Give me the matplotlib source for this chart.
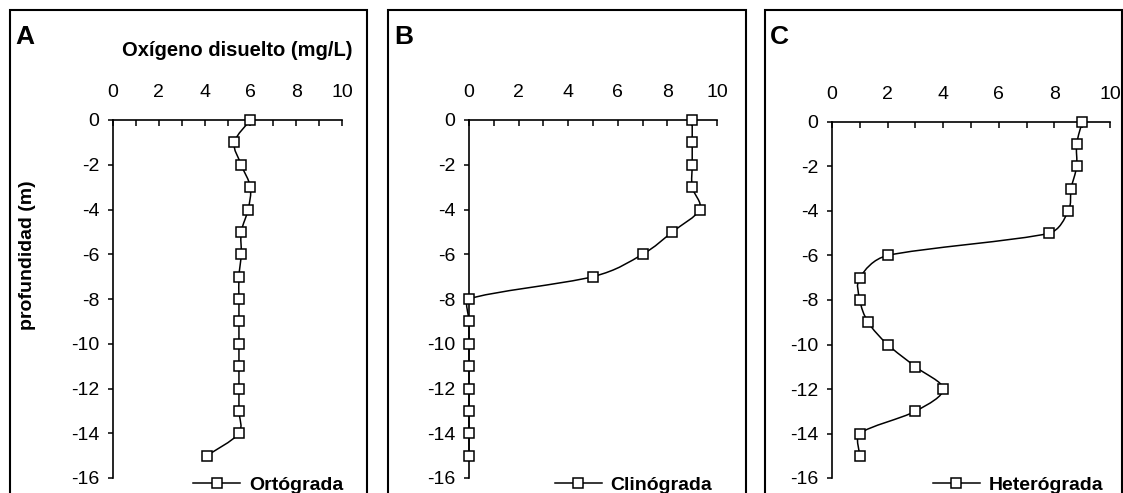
"""Perfiles de oxígeno disuelto: ortógrado, clinógrado y heterógrado."""

import matplotlib

matplotlib.use("Agg")
import matplotlib.pyplot as plt
import numpy as np
from matplotlib.lines import Line2D
from matplotlib.patches import PathPatch, Rectangle
from matplotlib.path import Path

plt.rcParams["font.family"] = ["Liberation Sans", "DejaVu Sans"]
plt.rcParams["axes.unicode_minus"] = False

W, H = 1123, 493

DEPTH = [0, -1, -2, -3, -4, -5, -6, -7, -8, -9, -10, -11, -12, -13, -14, -15]
ORTOGRADA = [6.0, 5.3, 5.6, 6.0, 5.9, 5.6, 5.6, 5.5, 5.5, 5.5, 5.5, 5.5, 5.5, 5.5, 5.5, 4.1]
CLINOGRADA = [9.0, 9.0, 9.0, 9.0, 9.3, 8.2, 7.0, 5.0, 0.0, 0.0, 0.0, 0.0, 0.0, 0.0, 0.0, 0.0]
HETEROGRADA = [9.0, 8.8, 8.8, 8.6, 8.5, 7.8, 2.0, 1.0, 1.0, 1.3, 2.0, 3.0, 4.0, 3.0, 1.0, 1.0]

PANEL_LETTERS = ["A", "B", "C"]
SERIES_NAMES = ["Ortógrada", "Clinógrada", "Heterógrada"]
X_TICKS = [0, 2, 4, 6, 8, 10]
Y_TICKS = [0, -2, -4, -6, -8, -10, -12, -14, -16]

# the original chart was wider than it is tall; smoothing is done in that space
SMOOTH_X_STRETCH = 2.0


def _ctrl_factor(span: float, seg: float) -> float:
    # 1/6 of the neighbour span, but never further than half the segment.
    if span <= 0:
        return 0.0
    return 1 / 6 if span / 6 <= seg / 2 else seg / (2 * span)


def _smooth_path(ax, x, y) -> Path:
    """Excel-like smoothed line: cubic Bezier through every point."""
    scale = np.array([SMOOTH_X_STRETCH, 1.0])
    pts = ax.transData.transform(np.column_stack([x, y]).astype(float)) * scale
    padded = np.vstack([pts[:1], pts, pts[-1:]])
    verts = [pts[0]]
    codes = [Path.MOVETO]
    for i in range(len(pts) - 1):
        p0, p1, p2, p3 = padded[i], padded[i + 1], padded[i + 2], padded[i + 3]
        seg = np.linalg.norm(p2 - p1)
        f1 = _ctrl_factor(np.linalg.norm(p2 - p0), seg)
        f2 = _ctrl_factor(np.linalg.norm(p3 - p1), seg)
        verts += [p1 + (p2 - p0) * f1, p2 - (p3 - p1) * f2, p2]
        codes += [Path.CURVE4] * 3
    data_verts = ax.transData.inverted().transform(np.array(verts) / scale)
    return Path(data_verts, codes)


def _px_axes(fig, left, right, top, bottom):
    return fig.add_axes([left / W, (H - bottom) / H, (right - left) / W, (bottom - top) / H])


def _draw_panel(ax, values, name, legend_anchor) -> None:
    ax.set_xlim(0, 10)
    ax.set_ylim(-16, 0)

    ax.add_patch(PathPatch(_smooth_path(ax, values, DEPTH), fill=False, lw=1.1,
                           ec="black", clip_on=False, zorder=2))
    ax.plot(values, DEPTH, ls="none", marker="s", ms=7.5, mfc="white", mec="black",
            mew=1.1, clip_on=False, zorder=3)

    ax.xaxis.tick_top()
    ax.set_xticks(X_TICKS)
    ax.set_xticks(range(0, 11), minor=True)
    ax.set_yticks(Y_TICKS)
    ax.tick_params(axis="x", which="both", direction="in", length=4, width=1.1,
                   pad=14, labelsize=14)
    ax.tick_params(axis="y", direction="out", length=3.8, width=1.1, pad=6, labelsize=14)
    for side in ("right", "bottom"):
        ax.spines[side].set_visible(False)
    for side in ("left", "top"):
        ax.spines[side].set_linewidth(1.2)
    ax.patch.set_alpha(0)

    handle = Line2D([], [], color="black", lw=1.1, marker="s", ms=7.5,
                    mfc="white", mec="black", mew=1.1)
    ax.legend([handle], [name], loc="center right", bbox_to_anchor=legend_anchor,
              frameon=False, borderpad=0, borderaxespad=0, handlelength=2.4,
              handletextpad=0.45, prop={"weight": "bold", "size": 14})


def main() -> None:
    fig = plt.figure(figsize=(W / 100, H / 100), dpi=100)

    frames = [(10, 367), (388, 746), (765, 1122)]
    axes_px = [(113, 342, 120, 478), (469, 717, 120, 478), (832, 1110, 122, 478)]
    anchors = [(1.005, -0.02), (0.98, -0.02), (0.975, -0.02)]
    letter_x = [15, 394, 770]
    series = [ORTOGRADA, CLINOGRADA, HETEROGRADA]

    for (fx0, fx1), box, anchor, lx, letter, vals, name in zip(
            frames, axes_px, anchors, letter_x, PANEL_LETTERS, series, SERIES_NAMES):
        fig.add_artist(Rectangle((fx0 / W, -0.1), (fx1 - fx0) / W, (H - 10) / H + 0.1,
                                 transform=fig.transFigure, fill=False, lw=1.5,
                                 ec="black"))
        ax = _px_axes(fig, *box)
        _draw_panel(ax, vals, name, anchor)
        fig.text(lx / W, (H - 37) / H, letter, fontsize=19, fontweight="bold",
                 ha="left", va="center")

    fig.text(237 / W, (H - 51) / H, "Oxígeno disuelto (mg/L)", fontsize=14.5,
             fontweight="bold", ha="center", va="center")
    fig.text(28 / W, (H - 255) / H, "profundidad (m)", fontsize=14, fontweight="bold",
             rotation=90, ha="center", va="center")

    fig.savefig("out.png", dpi=100)
    plt.close(fig)


if __name__ == "__main__":
    main()
